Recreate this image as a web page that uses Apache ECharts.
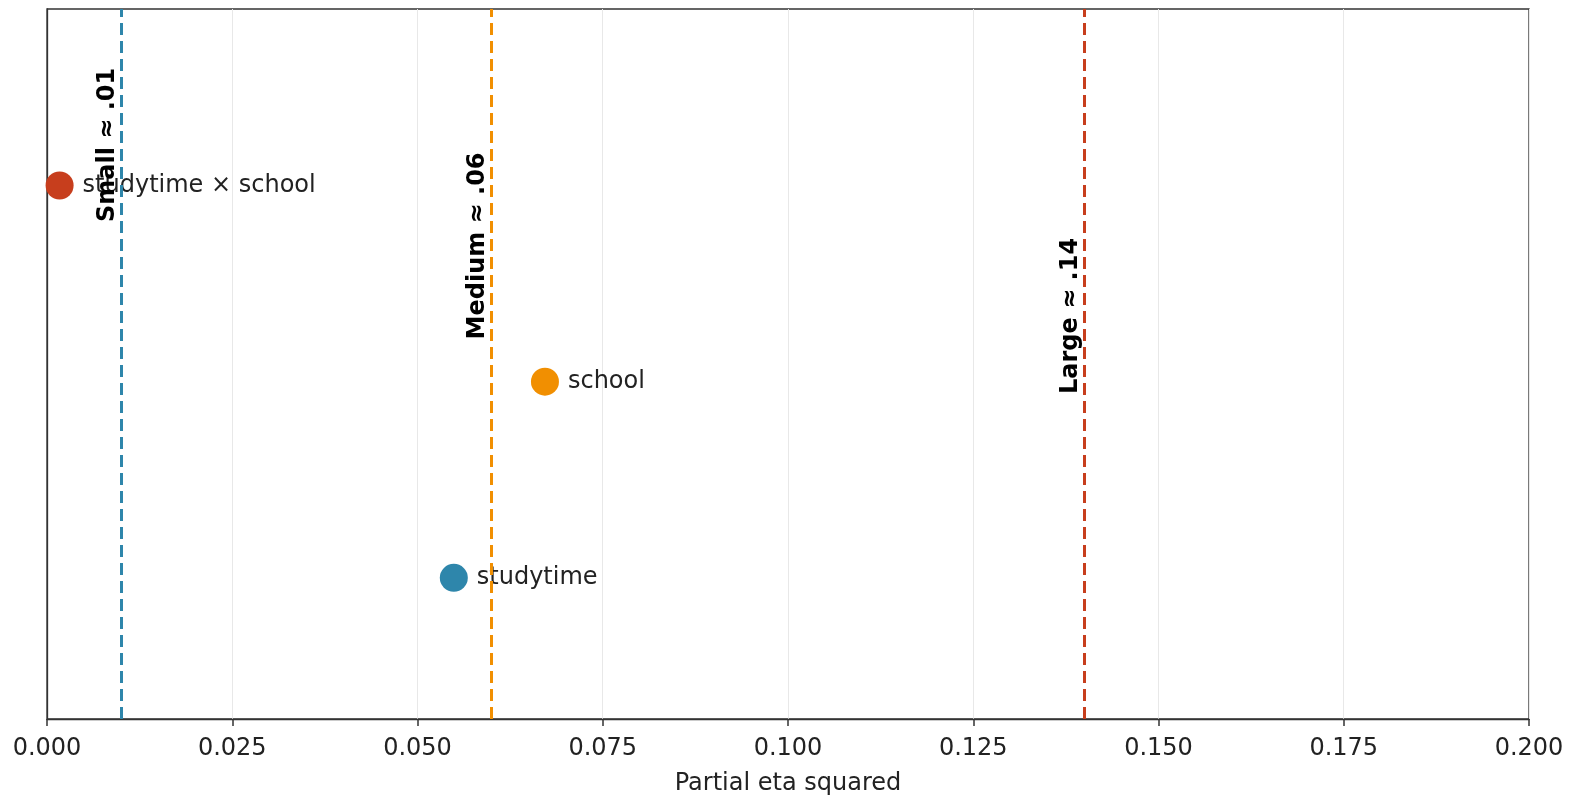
<!DOCTYPE html>
<html>
<head>
<meta charset="utf-8">
<script src="https://cdn.jsdelivr.net/npm/echarts@6/dist/echarts.min.js"></script>
<style>html,body{margin:0;padding:0;background:#fff;}#chart{width:1586px;height:806px;}</style>
</head>
<body>
<div id="chart"></div>
<script>
// Effects (partial eta squared) and their row positions
const effectNames = ['studytime', 'school', 'studytime × school'];
const effectValues = [0.0549, 0.0672, 0.0017];
const effectRows = [0, 1, 2];
const effectColors = ['#2e86ab', '#f18f01', '#c73e1d'];

// Benchmark thresholds
const thresholdNames = ['Small ≈ .01', 'Medium ≈ .06', 'Large ≈ .14'];
const thresholdValues = [0.01, 0.06, 0.14];
const thresholdColors = ['#2e86ab', '#f18f01', '#c73e1d'];
const thresholdLabelX = [0.0082, 0.0582, 0.1382];
const thresholdLabelY = [2.207, 1.692, 1.335];

// Axis ticks
const xTicks = [0, 0.025, 0.05, 0.075, 0.1, 0.125, 0.15, 0.175, 0.2];

const FONT = 'DejaVu Sans';
const chart = echarts.init(document.getElementById('chart'));

const pointData = effectValues.map((v, i) => ({
  value: [v, effectRows[i]],
  name: effectNames[i],
  itemStyle: { color: effectColors[i], opacity: 1 }
}));

const markLines = thresholdValues.map((v, i) => ({
  xAxis: v,
  lineStyle: { color: thresholdColors[i], type: [12, 6], width: 3, opacity: 1 }
}));

const thresholdLabelData = thresholdValues.map((v, i) => ({
  value: [thresholdLabelX[i], thresholdLabelY[i]],
  name: thresholdNames[i]
}));

chart.setOption({
  animation: false,
  backgroundColor: '#ffffff',
  grid: {
    left: 47, right: 57, top: 9, bottom: 87,
    show: true, borderColor: '#333', borderWidth: 1.3, backgroundColor: 'transparent'
  },
  xAxis: {
    type: 'value', min: 0, max: 0.2, interval: 0.025,
    name: 'Partial eta squared', nameLocation: 'middle', nameGap: 53,
    nameTextStyle: { fontFamily: FONT, fontSize: 24, color: '#222' },
    axisLine: { show: true, onZero: false, lineStyle: { color: '#333', width: 1.3 } },
    axisTick: { show: true, inside: false, length: 7, lineStyle: { color: '#333', width: 1.5 } },
    axisLabel: {
      fontFamily: FONT, fontSize: 24, color: '#222', margin: 18,
      formatter: v => v.toFixed(3)
    },
    splitLine: { show: true, lineStyle: { color: '#e8e8e8', width: 1 } }
  },
  yAxis: {
    type: 'value', min: -0.72, max: 2.9,
    axisLine: { show: true, onZero: false, lineStyle: { color: '#333', width: 1.3 } },
    axisTick: { show: false }, axisLabel: { show: false },
    splitLine: { show: false }
  },
  series: [
    {
      type: 'scatter',
      symbol: 'circle',
      symbolSize: 28,
      data: pointData,
      z: 3,
      itemStyle: { opacity: 1 },
      label: {
        show: true, position: 'right', distance: 9,
        formatter: p => p.name,
        fontFamily: FONT, fontSize: 24, color: '#222'
      },
      markLine: {
        silent: true, symbol: 'none', animation: false,
        label: { show: false },
        lineStyle: { type: [12, 6], width: 3 },
        emphasis: { disabled: true },
        data: markLines,
        z: 4
      }
    },
    {
      type: 'scatter',
      symbolSize: 0,
      data: thresholdLabelData,
      z: 5,
      itemStyle: { opacity: 1 },
      label: {
        show: true, position: 'inside', rotate: 90,
        align: 'center', verticalAlign: 'middle',
        formatter: p => p.name,
        fontFamily: FONT, fontSize: 24, fontWeight: 'bold', color: '#000'
      }
    }
  ]
});
</script>
</body>
</html>
